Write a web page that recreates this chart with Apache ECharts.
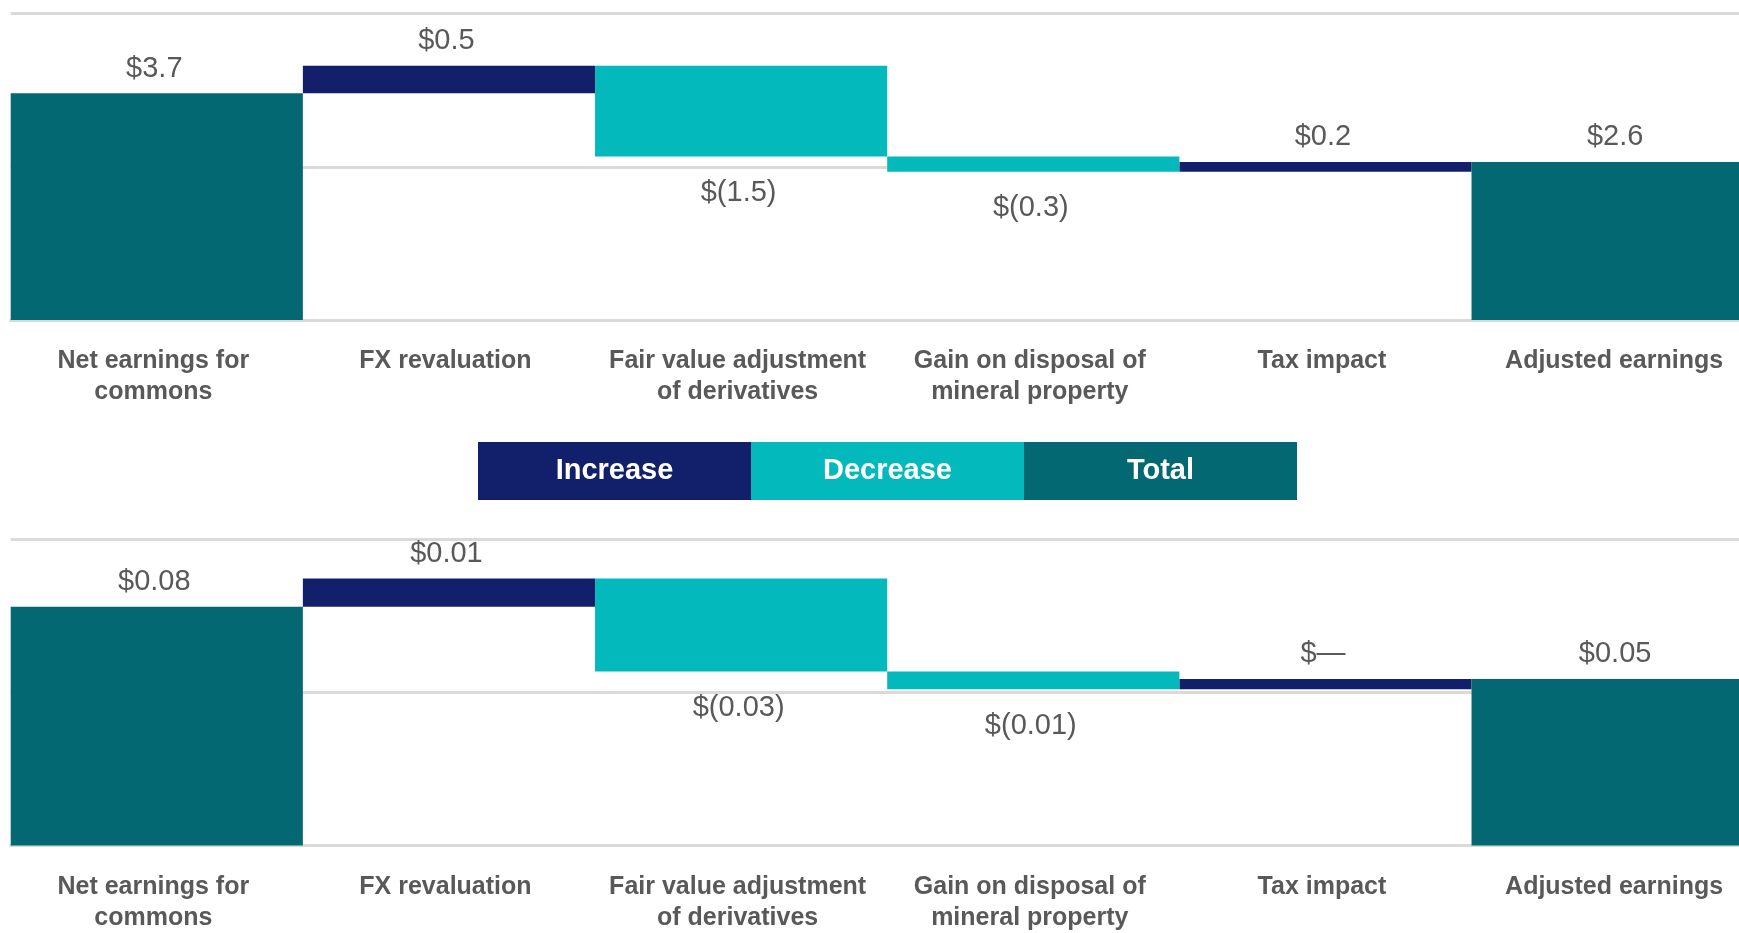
<!DOCTYPE html>
<html>
<head>
<meta charset="utf-8">
<title>Adjusted earnings bridge</title>
<script src="https://cdn.jsdelivr.net/npm/echarts@6.0.0/dist/echarts.min.js"></script>
<style>
html, body { margin: 0; padding: 0; background: #fff; }
#chart { width: 1739px; height: 933px; }
</style>
</head>
<body>
<div id="chart"></div>
<script>
// categories shared by both bridges
const categories = [
    'Net earnings for\ncommons',
    'FX revaluation',
    'Fair value adjustment\nof derivatives',
    'Gain on disposal of\nmineral property',
    'Tax impact',
    'Adjusted earnings'
]
const stepKinds = ['total', 'increase', 'decrease', 'decrease', 'increase', 'total']

// top bridge ($)
const topSteps = [3.70, 0.45, -1.48, -0.25, 0.16, 2.58]
const topLabels = ['$3.7', '$0.5', '$(1.5)', '$(0.3)', '$0.2', '$2.6']
const topAxis = { min: 0, max: 5, interval: 2.5 }

// bottom bridge (per share)
const bottomSteps = [0.078, 0.0092, -0.0304, -0.0058, 0.0034, 0.0544]
const bottomLabels = ['$0.08', '$0.01', '$(0.03)', '$(0.01)', '$—', '$0.05']
const bottomAxis = { min: 0, max: 0.1, interval: 0.05 }

const legendNames = ['Increase', 'Decrease', 'Total']

const colors = {
    increase: '#121f6b',
    decrease: '#03b9bb',
    total: '#036872'
}
const FONT = '"Liberation Sans", Arial, Helvetica, sans-serif'
const GRAY = '#595959'
const GRID_LINE = '#dadada'

// split the steps into an invisible base plus the three visible stacks
function bridge(steps, kinds) {
    const out = { base: [], increase: [], decrease: [], total: [] }
    let level = 0
    steps.forEach((v, i) => {
        const kind = kinds[i]
        out.increase.push('-')
        out.decrease.push('-')
        out.total.push('-')
        if (kind === 'total') {
            out.base.push(0)
            out.total[i] = v
            level = v
        } else if (kind === 'increase') {
            out.base.push(level)
            out.increase[i] = v
            level += v
        } else {
            level += v
            out.base.push(level)
            out.decrease[i] = -v
        }
    })
    return out
}

function seriesFor(steps, labels, idx) {
    const b = bridge(steps, stepKinds)
    const stack = 'bridge' + idx
    const common = {
        type: 'bar',
        stack: stack,
        xAxisIndex: idx,
        yAxisIndex: idx,
        barCategoryGap: '0%',
        silent: true
    }
    const valueLabel = (pos, dist) => ({
        show: true,
        position: pos,
        distance: dist,
        offset: [-2.5, 0],
        fontFamily: FONT,
        fontSize: 29,
        color: GRAY,
        formatter: p => labels[p.dataIndex]
    })
    return [
        Object.assign({}, common, {
            name: 'base',
            data: b.base,
            itemStyle: { color: 'transparent' }
        }),
        Object.assign({}, common, {
            name: 'Increase',
            data: b.increase,
            itemStyle: { color: colors.increase },
            label: valueLabel('top', 10)
        }),
        Object.assign({}, common, {
            name: 'Decrease',
            data: b.decrease,
            itemStyle: { color: colors.decrease },
            label: valueLabel('bottom', 22)
        }),
        Object.assign({}, common, {
            name: 'Total',
            data: b.total,
            itemStyle: { color: colors.total },
            label: valueLabel('top', 10)
        })
    ]
}

function xAxisFor(idx) {
    return {
        type: 'category',
        gridIndex: idx,
        data: categories,
        offset: 2,
        axisLine: { show: true, lineStyle: { color: GRID_LINE, width: 3 } },
        axisTick: { show: false },
        axisLabel: {
            interval: 0,
            margin: 24,
            padding: [0, 7, 0, 0],
            fontFamily: FONT,
            fontSize: 25,
            fontWeight: 'bold',
            lineHeight: 31,
            color: GRAY
        }
    }
}

function yAxisFor(idx, ax) {
    return {
        type: 'value',
        gridIndex: idx,
        min: ax.min,
        max: ax.max,
        interval: ax.interval,
        axisLabel: { show: false },
        axisLine: { show: false },
        axisTick: { show: false },
        splitLine: { show: true, lineStyle: { color: GRID_LINE, width: 3 } }
    }
}

const legendColors = [colors.increase, colors.decrease, colors.total]
const legendBoxes = legendNames.map((name, i) => ({
    type: 'group',
    left: 478 + i * 273,
    top: 442,
    children: [
        {
            type: 'rect',
            shape: { x: 0, y: 0, width: 273, height: 58 },
            style: { fill: legendColors[i] }
        },
        {
            type: 'text',
            x: 136.5,
            y: 29,
            style: {
                text: name,
                fill: '#ffffff',
                font: 'bold 29px ' + FONT,
                align: 'center',
                verticalAlign: 'middle',
                textAlign: 'center',
                textVerticalAlign: 'middle'
            }
        }
    ]
}))

// the last bar runs past the right edge of the picture, so the grid is wider than the canvas
const option = {
    animation: false,
    backgroundColor: '#ffffff',
    grid: [
        { left: 10.7, top: 13.7, width: 1753, height: 306.3, outerBoundsMode: 'none', containLabel: false },
        { left: 10.7, top: 539.3, width: 1753, height: 306.2, outerBoundsMode: 'none', containLabel: false }
    ],
    xAxis: [xAxisFor(0), xAxisFor(1)],
    yAxis: [yAxisFor(0, topAxis), yAxisFor(1, bottomAxis)],
    graphic: legendBoxes,
    series: [].concat(
        seriesFor(topSteps, topLabels, 0),
        seriesFor(bottomSteps, bottomLabels, 1)
    )
}

const chart = echarts.init(document.getElementById('chart'), null, { renderer: 'canvas' })
chart.setOption(option)
</script>
</body>
</html>
